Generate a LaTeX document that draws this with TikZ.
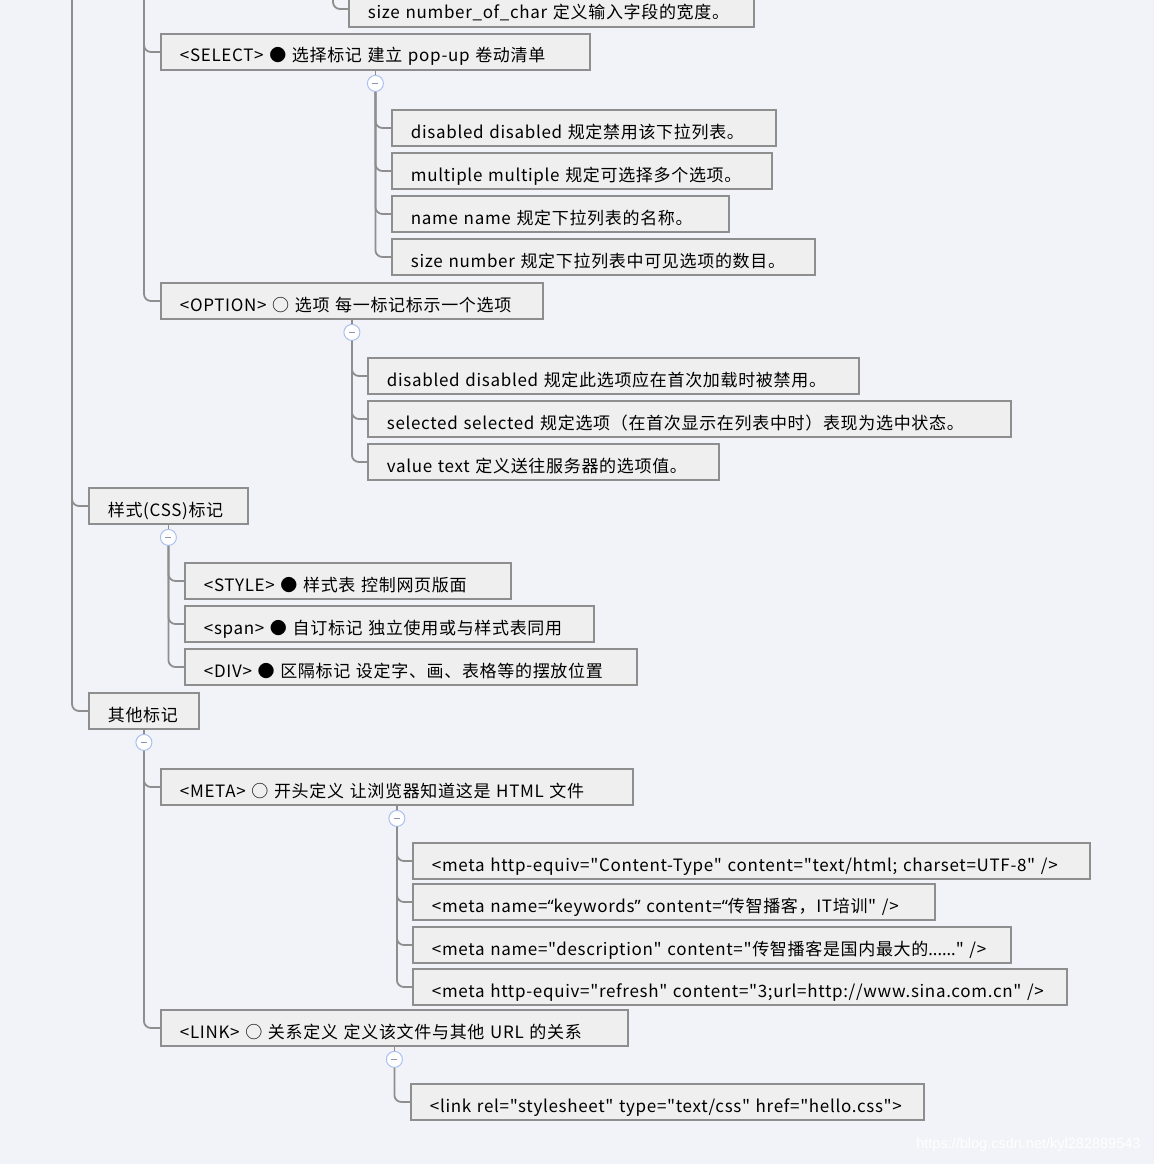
\documentclass[tikz,border=0pt]{standalone}
\usepackage{fontspec}
\setmainfont{Noto Sans CJK SC}[Ligatures=TeXOff, LetterSpace=4]
\newfontfamily\latinq{Noto Sans}
\newfontfamily\wmfont{Liberation Sans}
\usepackage{xcolor}
\usepackage{tikz}
\usetikzlibrary{positioning}

\definecolor{bgcol}{HTML}{F2F3F8}
\definecolor{boxfill}{HTML}{EFEFEF}
\definecolor{boxline}{HTML}{8E8E8E}
\definecolor{foldblue}{HTML}{A9BFF0}
\definecolor{foldminus}{HTML}{8A96B5}
\newcommand{\latq}[1]{{\latinq #1}}

\begin{document}
\begin{tikzpicture}[
    x=1pt,
    y=-1pt,
    font=\fontsize{17pt}{21pt}\selectfont,
    topic/.style={draw=boxline, fill=boxfill, line width=1.8pt,
                  minimum height=36pt, inner xsep=19pt, inner ysep=0pt,
                  text height=20pt, text depth=0pt,
                  anchor=west, align=left},
    fold/.style={circle, draw=foldblue, fill=white, line width=1pt,
                 minimum size=16pt, inner sep=0pt,
                 path picture={\draw[foldminus, line width=1.3pt]
                   ([xshift=-3pt]path picture bounding box.center) --
                   ([xshift=3pt]path picture bounding box.center);}},
    link/.style={draw=boxline, line width=1.8pt, rounded corners=7pt},
    wmark/.style={text=white, font=\wmfont\fontsize{14.5pt}{17pt}\selectfont},
]
\fill[bgcol] (0,0) rectangle (1154,1164);
\useasboundingbox (0,0) rectangle (1154,1164);

% branches coming from above
\coordinate (topA) at (72,0);
\coordinate (topB) at (144,0);
\coordinate (topC) at (333,0);

\node[topic, text width=367pt] (sizechar) at (348,9)
  {size number\_of\_char 定义输入字段的宽度。};

% SELECT
\node[topic, text width=391pt] (sel) at (160,52)
  {<SELECT> ● 选择标记 建立 pop-up 卷动清单};
\node[fold, below=4pt of sel] (selfold) {};
\node[topic, text width=346pt] (sel1) at (391,128) {disabled disabled 规定禁用该下拉列表。};
\node[topic, text width=342pt] (sel2) at (391,171) {multiple multiple 规定可选择多个选项。};
\node[topic, text width=299pt] (sel3) at (391,214) {name name 规定下拉列表的名称。};
\node[topic, text width=385pt] (sel4) at (391,257) {size number 规定下拉列表中可见选项的数目。};

% OPTION
\node[topic, text width=344pt] (opt) at (160,301)
  {<OPTION> ○ 选项 每一标记标示一个选项};
\node[fold, below=4pt of opt] (optfold) {};
\node[topic, text width=453pt] (opt1) at (367,376) {disabled disabled 规定此选项应在首次加载时被禁用。};
\node[topic, text width=605pt] (opt2) at (367,419) {selected selected 规定选项（在首次显示在列表中时）表现为选中状态。};
\node[topic, text width=313pt] (opt3) at (367,462) {value text 定义送往服务器的选项值。};

% CSS
\node[topic, text width=121pt] (css) at (88,506) {样式(CSS)标记};
\node[fold, below=4pt of css] (cssfold) {};
\node[topic, text width=288pt] (css1) at (184,581) {<STYLE> ● 样式表 控制网页版面};
\node[topic, text width=371pt] (css2) at (184,624) {<span> ● 自订标记 独立使用或与样式表同用};
\node[topic, text width=414pt] (css3) at (184,667) {<DIV> ● 区隔标记 设定字、画、表格等的摆放位置};

% other
\node[topic, text width=72pt] (other) at (88,711) {其他标记};
\node[fold, below=4pt of other] (otherfold) {};

\node[topic, text width=434pt] (meta) at (160,787)
  {<META> ○ 开头定义 让浏览器知道这是 HTML 文件};
\node[fold, below=4pt of meta] (metafold) {};
\node[topic, text width=639pt] (meta1) at (412,861)
  {<meta http-equiv="Content-Type" content="text/html; charset=UTF-8" />};
\node[topic, text width=484pt] (meta2) at (412,902)
  {<meta name=\latq{“}keywords\latq{”} content=\latq{“}传智播客，IT培训" />};
\node[topic, text width=560pt] (meta3) at (412,945)
  {<meta name="description" content="传智播客是国内最大的\latq{......}" />};
\node[topic, text width=616pt] (meta4) at (412,987)
  {<meta http-equiv="refresh" content="3;url=http://www.sina.com.cn" />};

\node[topic, text width=429pt] (lnk) at (160,1028)
  {<LINK> ○ 关系定义 定义该文件与其他 URL 的关系};
\node[fold, below=4pt of lnk] (lnkfold) {};
\node[topic, text width=475pt] (lnk1) at (410,1102)
  {<link rel="stylesheet" type="text/css" href="hello.css">};

% connectors
\draw[link] (topA) |- (css.west);
\draw[link] (topA) |- (other.west);
\draw[link] (topB) |- (sel.west);
\draw[link] (topB) |- (opt.west);
\draw[link] (topC) |- (sizechar.west);
\foreach \p/\n in {sel/4, opt/3, css/3, meta/4}{
  \draw[link] (\p.south) -- (\p fold.north);
  \foreach \i in {1,...,\n}
    \draw[link] (\p fold.south) |- (\p\i.west);
}
\draw[link] (other.south) -- (otherfold.north);
\draw[link] (otherfold.south) |- (meta.west);
\draw[link] (otherfold.south) |- (lnk.west);
\draw[link] (lnk.south) -- (lnkfold.north);
\draw[link] (lnkfold.south) |- (lnk1.west);

\node[wmark, anchor=east] (wm) at (1144,1145) {https://blog.csdn.net/kyl282889543};
\end{tikzpicture}
\end{document}
